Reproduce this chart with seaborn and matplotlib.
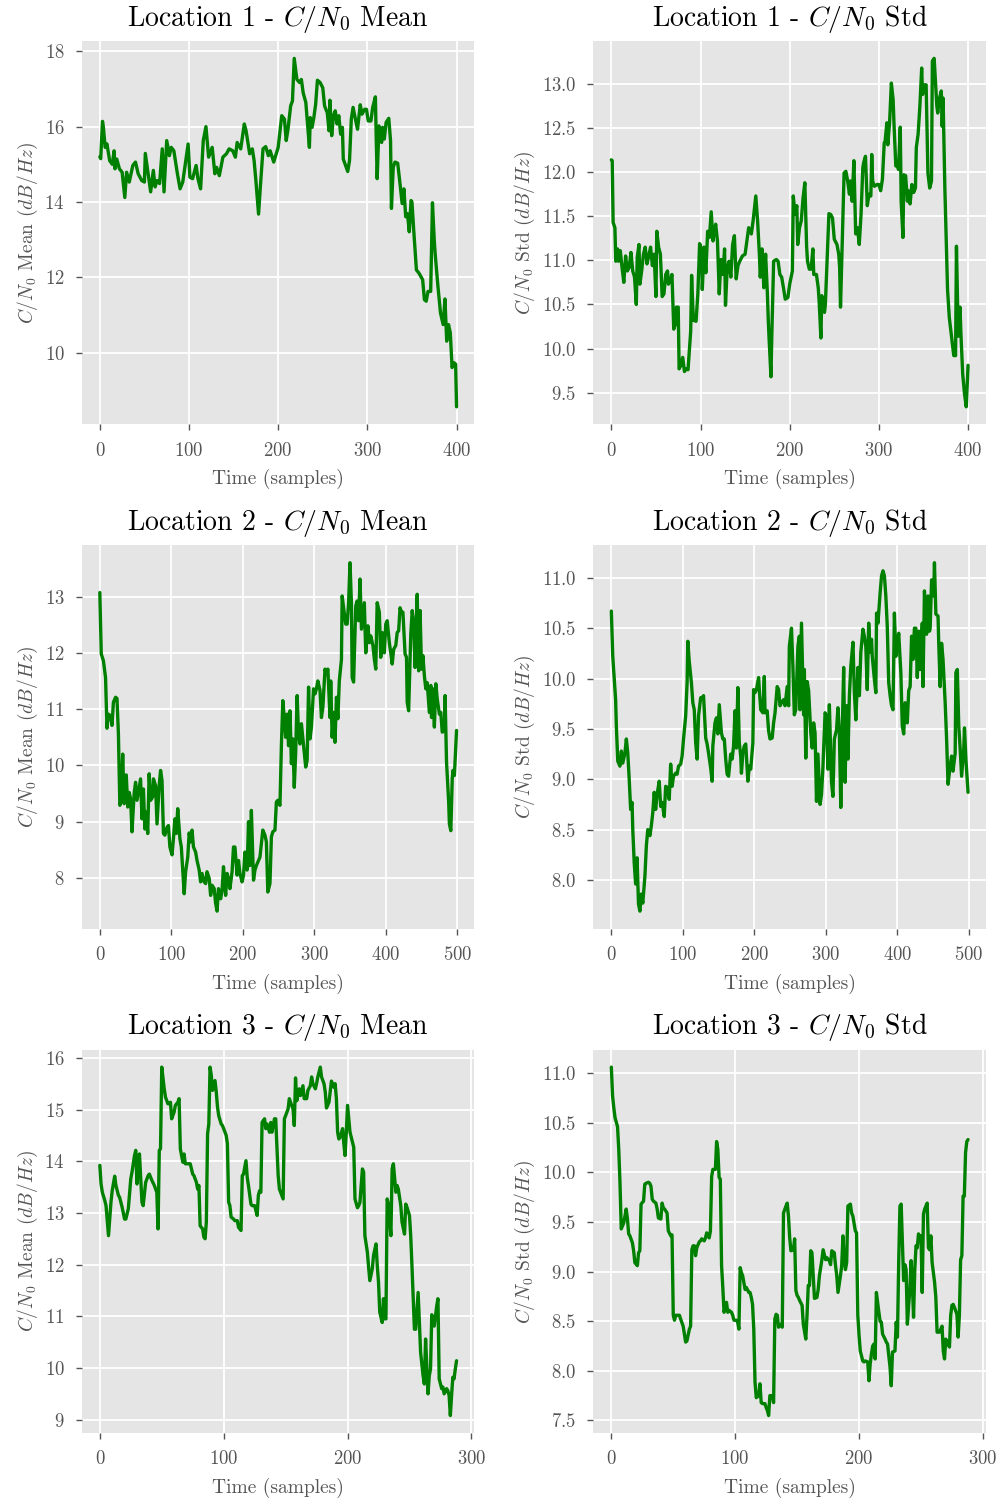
import matplotlib
matplotlib.use("Agg")
import matplotlib.pyplot as plt
from matplotlib.ticker import MultipleLocator
import seaborn as sns
import pandas as pd

# ---------------- data ----------------
loc1_mean_x = [0, 1, 3, 4, 6, 8, 11, 14, 16, 17, 19, 22, 25, 28, 30, 33, 37, 40, 43, 47, 50, 51, 54, 57, 60, 62, 64, 67, 70, 72, 75, 78, 80, 83, 87, 90, 93, 97, 99, 101, 104, 108, 110, 113, 116, 119, 122, 126, 129, 131, 134, 138, 142, 145, 149, 152, 154, 158, 162, 164, 168, 171, 173, 175, 178, 180, 183, 186, 189, 191, 195,
               200, 204, 207, 209, 211, 214, 216, 218, 221, 224, 226, 228, 231, 235, 236, 238, 240, 242, 244, 247, 250, 252, 255, 257, 258, 260, 262, 264, 266, 268, 270, 272, 273, 275, 278, 280, 282, 284, 287, 289, 292, 294, 297, 299, 301, 304, 306, 309, 310, 311, 313, 316, 317, 319, 321, 324, 326, 327, 329, 331, 334, 336, 339, 341, 343, 345, 347, 349, 350, 352, 355, 358, 362, 364, 366, 368, 371, 373, 375, 376, 379, 382, 385, 387, 389, 391, 393, 395, 397, 399, 400]
loc1_mean_y = [15.2, 15.15, 16.14, 15.98, 15.45, 15.54, 15.1, 15.0, 15.36, 14.88, 15.14, 14.88, 14.79, 14.12, 14.79, 14.53, 14.97, 15.06, 14.75, 14.57, 14.53, 15.29, 14.79, 14.27, 14.84, 14.4, 14.57, 14.49, 15.41, 14.27, 15.63, 15.23, 15.45, 15.36, 14.75, 14.35, 14.53, 15.19, 15.54, 14.66, 14.62, 14.97, 14.62, 14.35, 15.63, 16.0, 15.19, 15.45, 14.75, 14.92, 14.7, 15.19, 15.28, 15.41, 15.36, 15.19, 15.58, 15.41, 16.07, 15.89, 15.28, 15.41, 15.1, 14.57, 13.68, 14.4, 15.41, 15.47, 15.23, 15.36, 15.06,
               15.45, 16.29, 16.2, 15.63, 15.93, 16.55, 16.68, 17.81, 17.25, 17.17, 17.25, 16.9, 16.64, 15.45, 16.24, 15.98, 16.24, 16.59, 17.23, 17.17, 17.03, 16.55, 16.37, 15.89, 16.7, 15.76, 16.29, 16.42, 16.07, 16.29, 15.8, 15.98, 15.14, 15.01, 14.81, 15.1, 16.2, 16.51, 16.15, 15.93, 16.58, 16.33, 16.46, 16.46, 16.15, 16.15, 16.51, 16.79, 15.63, 14.62, 16.02, 15.58, 15.98, 15.67, 16.11, 16.22, 15.63, 13.83, 14.92, 15.06, 15.03, 14.62, 13.96, 14.35, 13.61, 13.69, 13.21, 14.04, 14.0, 13.25, 12.2, 12.11, 11.94, 11.41, 11.37, 11.63, 11.63, 13.98, 12.99, 12.64, 11.8, 11.06, 10.75, 11.43, 10.31, 10.75, 10.53, 9.61, 9.74, 9.7, 8.57]

loc1_std_x = [0, 1, 2, 4, 5, 7, 8, 10, 12, 14, 16, 18, 20, 22, 24, 26, 28, 29, 31, 32, 34, 36, 38, 40, 42, 44, 46, 48, 50, 51, 53, 55, 57, 59, 61, 63, 64, 66, 68, 70, 72, 73, 75, 76, 78, 80, 82, 84, 86, 89, 90, 92, 95, 97, 99, 101, 102, 104, 106, 108, 110, 112, 114, 115, 117, 119, 121, 123, 125, 127, 128, 130, 132, 134, 136, 138, 140, 142, 144, 147, 150, 152, 154, 157, 159, 162, 164, 166, 167, 169, 171, 173, 175, 176, 177, 179, 180, 182, 185, 187, 189, 191, 193, 195, 198,
              200, 203, 204, 206, 208, 209, 211, 213, 215, 217, 219, 220, 222, 224, 226, 227, 230, 232, 233, 235, 236, 239, 240, 242, 244, 246, 248, 250, 253, 255, 256, 257, 259, 261, 263, 265, 267, 268, 270, 272, 274, 276, 278, 280, 282, 283, 285, 287, 289, 291, 292, 293, 295, 298, 300, 302, 304, 306, 307, 309, 310, 312, 314, 316, 317, 319, 321, 322, 324, 325, 327, 328, 330, 332, 333, 335, 337, 339, 341, 342, 344, 346, 348, 349, 351, 353, 355, 357, 359, 360, 362, 363, 365, 366, 368, 370, 371, 372, 374, 375, 377, 379, 382, 384, 386, 387, 389, 391, 392, 394, 396, 398, 400]
loc1_std_y = [12.14, 12.13, 11.43, 11.37, 10.99, 11.13, 10.99, 11.11, 10.92, 10.75, 11.05, 10.88, 10.92, 11.09, 10.88, 10.81, 10.5, 11.03, 11.18, 10.73, 10.88, 11.07, 11.15, 10.96, 11.05, 11.15, 10.94, 11.07, 10.59, 11.33, 11.15, 11.07, 10.59, 10.62, 10.84, 10.88, 10.73, 10.77, 10.84, 10.22, 10.28, 10.47, 10.47, 9.77, 9.81, 9.9, 9.74, 9.77, 9.76, 10.2, 10.83, 10.32, 10.31, 10.62, 11.19, 11.13, 10.67, 11.15, 10.86, 11.33, 11.26, 11.55, 11.22, 11.3, 11.41, 11.22, 10.62, 11.01, 10.84, 11.13, 10.49, 10.92, 10.99, 10.81, 11.18, 11.28, 10.79, 10.94, 10.99, 11.05, 11.07, 11.22, 11.37, 11.3, 11.45, 11.73, 11.45, 11.07, 10.81, 11.13, 10.69, 11.07, 10.62, 10.32, 10.09, 9.68, 10.17, 10.99, 11.01, 10.99, 10.84, 10.81, 10.69, 10.56, 10.58,
              10.73, 10.88, 11.73, 11.52, 11.62, 11.18, 11.37, 11.45, 11.71, 11.88, 11.15, 10.99, 10.9, 10.9, 11.13, 10.84, 10.84, 10.69, 10.54, 10.12, 10.6, 10.41, 10.5, 11.03, 11.53, 11.52, 11.48, 11.24, 11.18, 11.07, 10.92, 10.47, 11.22, 11.99, 12.01, 11.9, 11.75, 11.9, 11.67, 12.13, 11.3, 11.37, 11.18, 11.52, 12.05, 12.11, 12.18, 11.62, 11.75, 11.73, 12.2, 11.9, 11.84, 11.86, 11.86, 11.79, 11.92, 12.33, 12.35, 12.56, 12.31, 12.56, 13.01, 12.82, 12.54, 12.07, 12.07, 12.03, 12.51, 11.67, 11.26, 11.97, 11.96, 11.67, 11.79, 11.64, 11.86, 11.77, 11.82, 12.28, 12.43, 12.75, 13.18, 12.88, 12.99, 12.99, 11.99, 11.82, 11.9, 13.26, 13.29, 13.11, 12.75, 12.67, 12.84, 12.92, 12.52, 12.84, 11.82, 11.45, 10.67, 10.35, 10.09, 9.92, 9.92, 11.16, 10.14, 10.47, 10.17, 9.71, 9.49, 9.34, 9.81]

loc2_mean_x = [0, 2, 5, 8, 10, 12, 15, 17, 19, 22, 24, 26, 28, 30, 32, 34, 37, 39, 41, 43, 45, 48, 50, 52, 55, 57, 59, 61, 63, 65, 67, 69, 71, 74, 75, 78, 80, 83, 85, 87, 89, 91, 94, 96, 98, 101, 103, 105, 107, 109, 112, 114, 116, 118, 120, 123, 125, 127, 129, 131, 134, 136, 139, 141, 143, 146, 148, 150, 153, 155, 157, 160, 162, 164, 166, 169, 171, 173, 176, 178, 180, 182, 185, 187, 189, 192, 194, 196, 199, 201, 203, 206, 208, 210, 212, 215, 217, 219, 222, 224, 226, 228, 231, 233, 235, 238, 240, 242, 245, 247, 249, 252, 254, 256,
               258, 260, 262, 264, 266, 268, 270, 272, 274, 276, 278, 280, 282, 285, 288, 290, 292, 294, 296, 299, 301, 303, 305, 308, 310, 312, 315, 317, 319, 322, 323, 325, 327, 329, 331, 333, 335, 338, 339, 341, 344, 346, 348, 350, 352, 353, 355, 358, 360, 362, 364, 366, 368, 370, 372, 375, 377, 379, 382, 384, 386, 388, 391, 393, 395, 398, 400, 402, 405, 407, 409, 411, 414, 416, 418, 420, 422, 424, 427, 429, 430, 432, 435, 437, 439, 441, 442, 444, 446, 448, 450, 452, 454, 456, 458, 461, 463, 464, 466, 468, 470, 472, 475, 477, 479, 482, 483, 485, 488, 489, 491, 493, 494, 496, 499]
loc2_mean_y = [13.07, 11.98, 11.86, 11.56, 10.66, 10.91, 10.88, 10.71, 11.12, 11.21, 11.19, 10.56, 9.29, 9.38, 10.2, 9.32, 9.83, 9.26, 9.52, 9.41, 8.82, 9.5, 9.7, 9.38, 9.61, 9.76, 9.05, 9.58, 8.87, 9.17, 8.79, 9.85, 9.38, 9.44, 9.76, 9.64, 8.96, 9.64, 9.91, 9.73, 8.79, 8.76, 8.9, 8.93, 8.55, 8.41, 8.7, 9.05, 8.79, 9.23, 8.7, 8.55, 8.14, 7.72, 8.11, 8.37, 8.8, 8.64, 8.85, 8.55, 8.46, 8.31, 8.14, 7.93, 8.08, 7.93, 7.9, 8.11, 7.99, 7.69, 7.87, 7.81, 7.55, 7.41, 7.81, 7.63, 7.78, 8.2, 7.69, 8.08, 7.99, 7.81, 8.11, 8.55, 8.55, 8.05, 8.31, 8.08, 7.93, 8.05, 8.46, 8.14, 9.0, 8.22, 9.2, 7.96, 8.14, 8.22, 8.31, 8.37, 8.61, 8.85, 8.76, 8.64, 7.75, 7.9, 8.73, 8.82, 8.85, 9.35, 9.38, 9.29, 10.35, 11.15,
               10.85, 10.5, 10.91, 10.35, 10.97, 10.03, 10.47, 9.61, 10.23, 11.24, 10.56, 10.38, 10.74, 10.35, 9.97, 10.09, 11.39, 10.47, 10.68, 11.36, 11.27, 11.36, 11.5, 11.33, 10.85, 11.03, 11.71, 11.62, 11.71, 10.85, 11.5, 10.5, 10.94, 10.41, 11.21, 10.83, 11.5, 11.88, 13.01, 12.8, 12.51, 12.51, 12.89, 13.6, 12.86, 11.56, 11.48, 12.83, 12.92, 12.57, 13.31, 12.42, 12.66, 12.89, 12.0, 12.48, 12.18, 12.3, 12.13, 11.89, 11.71, 12.89, 12.72, 11.92, 12.36, 12.0, 12.51, 12.57, 12.18, 12.0, 11.8, 12.06, 12.13, 12.36, 12.39, 12.8, 12.72, 12.72, 11.98, 11.92, 11.12, 10.97, 12.33, 12.75, 12.54, 11.74, 12.24, 13.04, 11.68, 12.75, 11.71, 11.95, 11.59, 11.36, 11.47, 10.94, 11.42, 10.85, 11.36, 10.68, 11.45, 11.18, 10.91, 10.94, 10.59, 10.62, 11.24, 10.06, 9.35, 8.96, 8.84, 9.76, 9.91, 9.82, 10.62]

loc2_std_x = [0, 2, 6, 7, 9, 12, 14, 16, 19, 21, 23, 25, 27, 29, 30, 32, 34, 36, 38, 40, 42, 44, 47, 49, 51, 54, 56, 58, 60, 62, 64, 67, 69, 71, 74, 76, 78, 81, 83, 85, 87, 90, 92, 94, 97, 99, 101, 104, 106, 107, 109, 112, 114, 116, 118, 120, 122, 125, 127, 129, 132, 134, 136, 139, 141, 142, 145, 147, 149, 151, 154, 156, 158, 160, 162, 164, 167, 169, 171, 173, 175, 177, 179, 181, 182, 184, 186, 188, 191, 193, 195, 198, 199, 201, 203, 206, 207, 209, 212, 214, 215, 218, 220, 222, 225, 227, 229, 232, 234, 236, 238,
              241, 243, 246, 248, 249, 252, 254, 256, 258, 261, 263, 264, 266, 269, 270, 272, 274, 276, 279, 281, 283, 285, 287, 289, 292, 294, 296, 299, 301, 303, 305, 308, 310, 312, 315, 317, 319, 321, 323, 325, 327, 329, 331, 333, 335, 338, 340, 342, 345, 347, 349, 352, 354, 356, 358, 360, 362, 364, 365, 368, 370, 371, 373, 376, 378, 380, 382, 384, 386, 388, 390, 392, 394, 396, 398, 400, 402, 405, 407, 409, 411, 414, 416, 418, 420, 422, 424, 426, 428, 430, 432, 435, 436, 438, 441, 443, 445, 446, 448, 451, 452, 454, 457, 458, 460, 462, 464, 467, 469, 471, 474, 476, 478, 481, 482, 484, 486, 488, 490, 493, 494, 496, 499]
loc2_std_y = [10.67, 10.22, 9.79, 9.53, 9.18, 9.13, 9.28, 9.16, 9.26, 9.4, 9.26, 9.0, 8.7, 8.77, 8.5, 8.17, 7.96, 8.22, 7.76, 7.69, 7.86, 7.77, 8.04, 8.34, 8.5, 8.44, 8.54, 8.67, 8.87, 8.7, 8.85, 8.98, 8.73, 8.77, 8.63, 8.93, 8.92, 8.8, 9.15, 8.93, 9.03, 9.06, 9.05, 9.13, 9.15, 9.23, 9.4, 9.63, 9.96, 10.37, 10.17, 9.96, 9.76, 9.69, 9.36, 9.2, 9.63, 9.81, 9.81, 9.83, 9.41, 9.35, 9.26, 9.11, 8.98, 9.33, 9.56, 9.61, 9.45, 9.74, 9.46, 9.4, 9.4, 9.2, 9.05, 9.03, 9.25, 9.2, 9.33, 9.68, 9.31, 9.91, 9.36, 9.23, 9.06, 9.26, 9.33, 9.35, 8.98, 9.13, 9.1, 9.36, 9.89, 9.86, 9.89, 10.01, 9.89, 9.69, 9.66, 10.02, 9.66, 9.68, 9.48, 9.4, 9.41, 9.56, 9.66, 9.92, 9.89, 9.73, 9.76,
              9.79, 9.73, 9.92, 9.73, 10.32, 10.5, 10.12, 9.64, 9.69, 10.32, 10.42, 9.69, 10.55, 9.64, 10.09, 9.21, 9.97, 9.88, 9.46, 9.31, 9.56, 9.46, 8.78, 9.25, 8.75, 8.85, 9.12, 9.66, 9.63, 9.1, 9.74, 8.97, 8.83, 9.4, 9.49, 9.71, 9.46, 8.72, 9.47, 10.11, 8.97, 9.73, 9.2, 9.83, 10.12, 10.36, 9.86, 9.59, 10.11, 9.83, 10.26, 10.49, 10.42, 10.32, 9.89, 10.55, 10.26, 10.39, 10.22, 9.99, 9.86, 10.65, 10.55, 10.85, 11.02, 11.07, 11.02, 10.82, 10.52, 9.96, 9.83, 9.73, 9.69, 10.65, 10.22, 10.32, 10.45, 10.06, 9.53, 9.45, 9.76, 9.56, 9.88, 9.92, 10.42, 10.19, 10.5, 10.5, 10.01, 10.47, 10.09, 10.55, 9.92, 10.87, 10.44, 10.82, 10.47, 10.5, 10.98, 10.82, 11.15, 10.64, 10.62, 10.35, 9.92, 10.35, 10.19, 9.76, 9.4, 8.95, 9.13, 9.23, 9.08, 9.26, 10.06, 10.09, 9.53, 9.3, 9.03, 9.3, 9.51, 9.2, 8.87]

loc3_mean_x = [0, 1, 2, 4, 5, 7, 9, 10, 12, 13, 15, 16, 18, 20, 21, 23, 25, 26, 28, 29, 30, 31, 32, 34, 35, 37, 39, 40, 42, 44, 46, 47, 48, 49, 50, 52, 53, 55, 56, 57, 58, 60, 61, 63, 64, 65, 67, 68, 69, 71, 73, 75, 76, 78, 79, 80, 81, 83, 84, 85, 86, 87, 88, 89, 90, 91, 93, 94, 95, 96, 98, 99, 100, 102, 103, 104, 105, 106, 108, 109, 111, 112, 114, 115, 116, 118, 119, 120, 122, 123, 125, 127, 128, 129, 130, 131, 133, 134, 135, 137, 138, 139, 141, 142, 144, 145, 148,
               149, 150, 152, 153, 154, 156, 157, 158, 159, 160, 161, 162, 164, 165, 167, 168, 170, 171, 172, 174, 175, 176, 178, 179, 181, 182, 183, 185, 186, 187, 189, 190, 191, 192, 193, 194, 196, 197, 198, 199, 200, 201, 202, 204, 205, 206, 208, 209, 210, 212, 213, 214, 216, 217, 218, 220, 221, 223, 224, 225, 226, 228, 229, 230, 231, 232, 233, 235, 236, 237, 239, 240, 241, 243, 244, 246, 247, 248, 250, 251, 252, 253, 254, 255, 257, 258, 259, 261, 262, 263, 265, 266, 267, 268, 270, 271, 272, 273, 274, 276, 277, 278, 280, 281, 282, 283, 284, 285, 286, 287, 288]
loc3_mean_y = [13.92, 13.56, 13.4, 13.24, 13.14, 12.56, 13.21, 13.43, 13.71, 13.53, 13.34, 13.3, 13.11, 12.88, 12.88, 13.08, 13.66, 13.79, 14.11, 14.21, 13.56, 14.11, 14.14, 13.21, 13.14, 13.59, 13.72, 13.75, 13.63, 13.53, 13.4, 12.69, 14.21, 14.24, 15.82, 15.4, 15.24, 15.11, 15.11, 15.14, 14.82, 14.95, 15.08, 15.14, 15.21, 14.24, 13.98, 14.14, 13.95, 13.95, 13.95, 13.75, 13.72, 13.59, 13.46, 13.53, 12.75, 12.69, 12.53, 12.5, 12.82, 14.53, 14.72, 15.82, 15.66, 15.37, 15.56, 15.34, 15.05, 14.88, 14.72, 14.69, 14.63, 14.5, 14.34, 13.21, 13.14, 12.92, 12.88, 12.85, 12.85, 12.72, 12.66, 13.72, 13.75, 14.01, 13.69, 13.53, 13.17, 13.14, 13.14, 12.95, 13.34, 13.43, 13.4, 14.75, 14.82, 14.63, 14.72, 14.56, 14.75, 14.56, 14.82, 14.82, 13.72, 13.46, 13.27,
               14.82, 14.88, 15.01, 15.21, 15.14, 15.01, 14.69, 15.61, 15.17, 15.3, 15.4, 15.27, 15.46, 15.21, 15.21, 15.37, 15.46, 15.63, 15.5, 15.4, 15.5, 15.63, 15.82, 15.63, 15.5, 15.34, 15.03, 15.14, 15.34, 15.55, 15.43, 15.5, 15.21, 14.56, 14.43, 14.46, 14.63, 14.34, 14.11, 14.56, 15.08, 14.82, 14.56, 14.37, 14.27, 13.27, 13.1, 13.14, 13.2, 13.85, 13.79, 12.56, 12.24, 11.95, 11.69, 11.92, 12.18, 12.4, 11.98, 11.66, 11.08, 10.88, 11.34, 10.95, 10.95, 13.27, 13.17, 12.56, 13.85, 13.95, 13.4, 13.53, 13.46, 13.14, 12.82, 12.59, 13.17, 13.11, 12.95, 12.56, 11.98, 11.34, 10.75, 10.75, 11.46, 10.88, 10.3, 9.85, 9.69, 10.56, 9.5, 9.85, 9.98, 11.03, 10.81, 11.0, 11.2, 11.34, 9.79, 9.6, 9.63, 9.5, 9.6, 9.56, 9.47, 9.08, 9.47, 9.82, 9.79, 9.98, 10.14]

loc3_std_x = [0, 1, 2, 3, 5, 6, 7, 8, 9, 10, 12, 13, 14, 15, 17, 18, 19, 21, 22, 23, 24, 26, 27, 28, 30, 31, 32, 33, 34, 36, 37, 38, 40, 41, 42, 43, 45, 46, 48, 49, 50, 51, 52, 54, 55, 56, 58, 59, 60, 61, 63, 64, 65, 66, 67, 68, 69, 71, 72, 73, 75, 76, 77, 79, 80, 81, 82, 84, 85, 86, 87, 88, 89, 90, 91, 93, 94, 95, 97, 98, 99, 101, 102, 103, 104, 105, 106, 108, 109, 111, 112, 113, 114, 115, 116, 117, 119, 120, 121, 122, 124, 125, 126, 127, 128, 130, 131, 132, 133, 134, 135, 137, 138, 139,
              141, 142, 143, 144, 145, 147, 148, 149, 150, 151, 152, 154, 155, 157, 158, 159, 160, 161, 162, 163, 164, 166, 167, 168, 170, 171, 172, 173, 174, 176, 177, 178, 180, 181, 182, 183, 185, 186, 187, 188, 189, 190, 191, 193, 194, 195, 197, 198, 199, 200, 201, 203, 204, 205, 207, 208, 209, 210, 211, 212, 213, 214, 216, 217, 218, 219, 221, 222, 223, 225, 226, 227, 229, 230, 231, 232, 233, 234, 235, 236, 237, 238, 239, 241, 242, 243, 244, 245, 246, 247, 248, 249, 250, 251, 252, 253, 254, 255, 256, 257, 258, 259, 261, 262, 263, 264, 265, 267, 268, 269, 270, 271, 273, 274, 275, 276, 277, 279, 280, 281, 282, 283, 284, 285, 286, 287, 288]
loc3_std_y = [11.06, 10.77, 10.65, 10.55, 10.46, 10.23, 9.89, 9.43, 9.46, 9.49, 9.63, 9.53, 9.38, 9.36, 9.29, 9.21, 9.09, 9.06, 9.19, 9.21, 9.68, 9.71, 9.88, 9.89, 9.9, 9.89, 9.86, 9.73, 9.71, 9.69, 9.63, 9.54, 9.53, 9.69, 9.64, 9.63, 9.59, 9.41, 9.36, 9.37, 8.56, 8.51, 8.56, 8.56, 8.56, 8.52, 8.45, 8.37, 8.29, 8.3, 8.42, 8.45, 9.22, 9.26, 9.26, 9.16, 9.24, 9.3, 9.31, 9.33, 9.31, 9.34, 9.39, 9.34, 9.41, 9.96, 10.03, 10.03, 10.31, 10.23, 9.95, 9.93, 9.06, 8.84, 8.59, 8.69, 8.59, 8.61, 8.59, 8.56, 8.51, 8.51, 8.49, 8.42, 9.04, 8.99, 8.96, 8.82, 8.84, 8.79, 8.79, 8.74, 8.67, 8.42, 7.89, 7.73, 7.75, 7.87, 7.68, 7.67, 7.67, 7.63, 7.6, 7.55, 7.75, 7.75, 7.68, 8.52, 8.57, 8.56, 8.44, 8.47, 8.44, 9.59,
              9.66, 9.69, 9.56, 9.34, 9.21, 9.22, 9.33, 8.81, 8.76, 8.74, 8.71, 8.66, 8.47, 8.32, 8.56, 8.86, 8.86, 9.21, 9.19, 8.96, 8.73, 8.74, 8.82, 8.96, 9.12, 9.22, 9.17, 9.12, 9.14, 9.11, 9.07, 9.21, 9.19, 9.06, 8.96, 8.79, 8.96, 9.06, 9.36, 9.12, 9.02, 9.09, 9.66, 9.68, 9.59, 9.56, 9.41, 9.39, 8.56, 8.36, 8.2, 8.1, 8.09, 8.1, 8.09, 7.9, 8.07, 8.17, 8.25, 8.27, 8.12, 8.79, 8.59, 8.5, 8.49, 8.37, 8.32, 8.29, 8.27, 8.04, 7.85, 8.19, 8.2, 8.49, 8.34, 9.09, 9.66, 9.68, 9.29, 8.91, 9.07, 9.02, 8.47, 8.82, 9.11, 8.89, 8.54, 9.02, 9.26, 9.24, 9.38, 9.33, 9.36, 8.79, 9.58, 9.63, 9.66, 9.69, 9.24, 9.22, 9.36, 9.09, 8.89, 8.74, 8.39, 8.39, 8.39, 8.45, 8.2, 8.12, 8.32, 8.29, 8.24, 8.56, 8.66, 8.67, 8.64, 8.57, 8.34, 8.56, 9.12, 9.16, 9.76, 9.76, 10.2, 10.31, 10.33]

locations = ["Location 1", "Location 2", "Location 3"]
stats = ["Mean", "Std"]
series = [
    [(loc1_mean_x, loc1_mean_y), (loc1_std_x, loc1_std_y)],
    [(loc2_mean_x, loc2_mean_y), (loc2_std_x, loc2_std_y)],
    [(loc3_mean_x, loc3_mean_y), (loc3_std_x, loc3_std_y)],
]
y_steps = [[2, 0.5], [1, 0.5], [1, 0.5]]

# ---------------- style ----------------
sns.set_theme(style="darkgrid")
plt.rcParams.update({
    "font.family": "serif",
    "font.serif": ["cmr10", "DejaVu Serif"],
    "mathtext.fontset": "cm",
    "axes.formatter.use_mathtext": True,
    "axes.unicode_minus": False,
    "axes.facecolor": "#E5E5E5",
    "axes.edgecolor": "white",
    "grid.color": "white",
    "grid.linewidth": 1.3,
    "xtick.bottom": True,
    "ytick.left": True,
    "xtick.color": "#555555",
    "ytick.color": "#555555",
    "xtick.major.size": 4,
    "ytick.major.size": 4,
    "xtick.major.width": 1.0,
    "ytick.major.width": 1.0,
    "xtick.major.pad": 8.5,
    "ytick.major.pad": 8.5,
    "xtick.direction": "out",
    "ytick.direction": "out",
    "xtick.labelsize": 13.5,
    "ytick.labelsize": 13.5,
    "axes.labelcolor": "#555555",
    "axes.labelsize": 14,
    "axes.titlesize": 20,
})

fig, axes = plt.subplots(3, 2, figsize=(10.06, 15.0), dpi=100)
fig.subplots_adjust(left=0.0815, right=0.980, top=0.9727, bottom=0.0447,
                    wspace=0.3036, hspace=0.316)

for r in range(3):
    for c in range(2):
        ax = axes[r, c]
        xs, ys = series[r][c]
        df = pd.DataFrame({"t": xs, "v": ys})
        sns.lineplot(data=df, x="t", y="v", ax=ax, color="green",
                     linewidth=2.4, estimator=None)
        ax.set_title(f"{locations[r]} - $C/N_0$ {stats[c]}", color="black", pad=11)
        ax.set_xlabel("Time (samples)", labelpad=7)
        ax.set_ylabel(f"$C/N_0$ {stats[c]} $(dB/Hz)$", labelpad=3)
        ax.xaxis.set_major_locator(MultipleLocator(100))
        ax.yaxis.set_major_locator(MultipleLocator(y_steps[r][c]))
        ax.grid(True, color="white", linewidth=1.3)
        for s in ax.spines.values():
            s.set_visible(False)

fig.savefig("out.png", dpi=100)
